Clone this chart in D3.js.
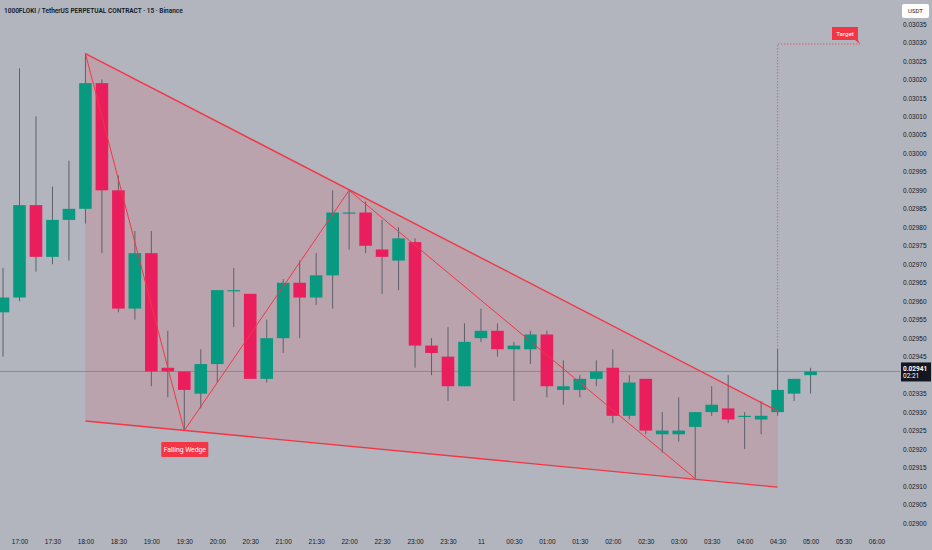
<!DOCTYPE html>
<html>
<head>
<meta charset="utf-8">
<script src="https://cdn.jsdelivr.net/npm/d3@7"></script>
<style>
  body { margin: 0; background: #b2b5be; }
  svg { display: block; font-family: Roboto, "Noto Sans", sans-serif; }
  .axis text { fill: #131722; font-size: 6.5px; }
  .axis path, .axis line { display: none; }
</style>
</head>
<body>
<script>
// 15 minute candles, 1000FLOKIUSDT.P
const times = ["16:45","17:00","17:15","17:30","17:45","18:00","18:15","18:30","18:45","19:00",
  "19:15","19:30","19:45","20:00","20:15","20:30","20:45","21:00","21:15","21:30",
  "21:45","22:00","22:15","22:30","22:45","23:00","23:15","23:30","23:45","00:00",
  "00:15","00:30","00:45","01:00","01:15","01:30","01:45","02:00","02:15","02:30",
  "02:45","03:00","03:15","03:30","03:45","04:00","04:15","04:30","04:45","05:00"];
const open = [0.02957,0.02961,0.02986,0.02972,0.02982,0.02985,0.03019,0.02990,0.02958,0.02973,
  0.02942,0.02941,0.02935,0.02943,0.02963,0.02962,0.02939,0.02950,0.02965,0.02961,
  0.02967,0.02984,0.02984,0.02974,0.02971,0.02976,0.02948,0.02945,0.02937,0.02950,
  0.02952,0.02947,0.02947,0.02951,0.02936,0.02936,0.02939,0.02942,0.02929,0.02939,
  0.02924,0.02924,0.02926,0.02930,0.02931,0.02929,0.02928,0.02930,0.02935,0.02940];
const high = [0.02969,0.03023,0.03010,0.02991,0.02998,0.03027,0.03020,0.02994,0.02979,0.02979,
  0.02952,0.02941,0.02947,0.02963,0.02969,0.02962,0.02955,0.02966,0.02971,0.02973,
  0.02990,0.02990,0.02987,0.02982,0.02980,0.02977,0.02950,0.02953,0.02954,0.02958,
  0.02954,0.02949,0.02952,0.02952,0.02944,0.02940,0.02944,0.02947,0.02940,0.02939,
  0.02930,0.02934,0.02930,0.02937,0.02940,0.02930,0.02933,0.02947,0.02939,0.02942];
const low = [0.02945,0.02960,0.02968,0.02970,0.02971,0.02981,0.02973,0.02957,0.02955,0.02937,
  0.02934,0.02925,0.02931,0.02938,0.02953,0.02939,0.02938,0.02946,0.02950,0.02959,
  0.02958,0.02974,0.02973,0.02962,0.02963,0.02942,0.02940,0.02933,0.02937,0.02949,
  0.02945,0.02933,0.02943,0.02934,0.02932,0.02934,0.02937,0.02927,0.02928,0.02924,
  0.02919,0.02922,0.02912,0.02929,0.02927,0.02920,0.02924,0.02929,0.02933,0.02935];
const close = [0.02961,0.02986,0.02972,0.02982,0.02985,0.03019,0.02990,0.02958,0.02973,0.02941,
  0.02941,0.02936,0.02943,0.02963,0.02963,0.02939,0.02950,0.02965,0.02961,0.02967,
  0.02984,0.02984,0.02975,0.02972,0.02977,0.02948,0.02946,0.02937,0.02949,0.02952,
  0.02947,0.02948,0.02951,0.02937,0.02937,0.02939,0.02941,0.02929,0.02938,0.02925,
  0.02925,0.02925,0.02930,0.02932,0.02928,0.02929,0.02929,0.02936,0.02939,0.02941];

const xTicks = ["17:00","17:30","18:00","18:30","19:00","19:30","20:00","20:30","21:00","21:30",
  "22:00","22:30","23:00","23:30","00:00","00:30","01:00","01:30","02:00","02:30",
  "03:00","03:30","04:00","04:30","05:00","05:30","06:00"];
const yTicks = [0.03035,0.03030,0.03025,0.03020,0.03015,0.03010,0.03005,0.03000,0.02995,0.02990,
  0.02985,0.02980,0.02975,0.02970,0.02965,0.02960,0.02955,0.02950,0.02945,0.02935,
  0.02930,0.02925,0.02920,0.02915,0.02910,0.02905,0.02900];

// drawings: wedge lines, zigzag, target
const wedgeUpper = [["18:00", 0.03027], ["04:30", 0.029303]];
const wedgeLower = [["18:00", 0.029276], ["04:30", 0.029097]];
const zigzag = [["18:00", 0.03027], ["19:30", 0.02925], ["22:00", 0.02990], ["03:15", 0.02912]];
const targetPath = [["04:30", 0.02947], ["04:30", 0.030296], ["05:45", 0.030296]];
const lastPrice = 0.02941;

// evening is the 10th, after midnight the 11th
const toDate = s => {
  const [h, m] = s.split(":").map(Number);
  return new Date(2024, 4, h >= 12 ? 10 : 11, h, m);
};

const data = times.map((t, i) => ({
  date: toDate(t), open: open[i], high: high[i], low: low[i], close: close[i]
}));

const width = 932, height = 550;
const svg = d3.select("body").append("svg")
  .attr("width", width)
  .attr("height", height);

svg.append("rect").attr("width", width).attr("height", height).attr("fill", "#b2b5be");

const x = d3.scaleTime()
  .domain([toDate("17:00"), toDate("06:00")])
  .range([19.5, 876.5]);
const y = d3.scaleLinear()
  .domain([0.02900, 0.03035])
  .range([523, 24]);

const green = "#089981", red = "#ea1e5d", lineRed = "#f23645";
const bw = 12.6;

// wedge fill
const poly = [wedgeUpper[0], wedgeUpper[1], wedgeLower[1], wedgeLower[0]];
svg.append("path")
  .attr("d", d3.line().x(d => x(toDate(d[0]))).y(d => y(d[1]))(poly) + "Z")
  .attr("fill", "rgba(242,54,69,0.14)");

// last price line
svg.append("line")
  .attr("x1", 0).attr("x2", 900)
  .attr("y1", y(lastPrice)).attr("y2", y(lastPrice))
  .attr("stroke", "#7f828a").attr("stroke-width", 1).attr("opacity", 0.8);

// candles
const candle = svg.selectAll("g.candle")
  .data(data)
  .enter()
  .append("g")
  .attr("class", "candle");

candle.append("line")
  .attr("x1", d => x(d.date)).attr("x2", d => x(d.date))
  .attr("y1", d => y(d.high)).attr("y2", d => y(d.low))
  .attr("stroke", "#5d606b").attr("stroke-width", 1);

candle.append("rect")
  .attr("x", d => x(d.date) - bw / 2)
  .attr("width", bw)
  .attr("y", d => y(Math.max(d.open, d.close)))
  .attr("height", d => Math.max(1.2, Math.abs(y(d.open) - y(d.close))))
  .attr("fill", d => d.close >= d.open ? green : red);

// wedge borders and zigzag
const pline = d3.line().x(d => x(toDate(d[0]))).y(d => y(d[1]));
[wedgeUpper, wedgeLower].forEach(l => {
  svg.append("path").attr("d", pline(l))
    .attr("fill", "none").attr("stroke", lineRed).attr("stroke-width", 1.4);
});
svg.append("path").attr("d", pline(zigzag))
  .attr("fill", "none").attr("stroke", lineRed).attr("stroke-width", 1);

// target
svg.append("path").attr("d", pline(targetPath))
  .attr("fill", "none").attr("stroke", lineRed).attr("stroke-width", 1)
  .attr("stroke-dasharray", "1,2");

const tx = x(toDate("05:45")), ty = y(0.030296);
svg.append("path")
  .attr("d", `M${tx - 28},${ty - 17} h26 v13 l2,4 l-5,-4 h-23 Z`)
  .attr("fill", lineRed);
svg.append("text")
  .attr("x", tx - 15).attr("y", ty - 8.3)
  .attr("text-anchor", "middle")
  .attr("font-size", 6.2).attr("fill", "#fff")
  .text("Target");

// pattern label
const lx = x(toDate("19:30"));
svg.append("rect")
  .attr("x", lx - 23).attr("y", 442).attr("width", 47).attr("height", 15)
  .attr("rx", 1).attr("fill", lineRed);
svg.append("text")
  .attr("x", lx + 0.5).attr("y", 452)
  .attr("text-anchor", "middle")
  .attr("font-size", 6.8).attr("fill", "#fff")
  .text("Falling Wedge");

// axes
svg.append("g")
  .attr("class", "axis")
  .attr("transform", "translate(0,535)")
  .call(d3.axisBottom(x)
    .tickValues(xTicks.map(toDate))
    .tickSize(0)
    .tickPadding(4)
    .tickFormat(d => d.getHours() == 0 && d.getMinutes() == 0 ? "11" : d3.timeFormat("%H:%M")(d)));

svg.append("g")
  .attr("class", "axis")
  .attr("transform", "translate(900,0)")
  .call(d3.axisRight(y)
    .tickValues(yTicks)
    .tickSize(0)
    .tickPadding(3)
    .tickFormat(d3.format(".5f")));

// currency box
svg.append("rect")
  .attr("x", 902).attr("y", 4).attr("width", 27).attr("height", 14)
  .attr("rx", 2).attr("fill", "#fff");
svg.append("text")
  .attr("x", 915.5).attr("y", 13.3).attr("text-anchor", "middle")
  .attr("font-size", 6).attr("fill", "#131722")
  .text("USDT");

// last price box
const py = y(lastPrice);
svg.append("rect")
  .attr("x", 901).attr("y", py - 9).attr("width", 30).attr("height", 19)
  .attr("fill", "#131722");
svg.append("text")
  .attr("x", 903).attr("y", py - 0.8)
  .attr("font-size", 6.5).attr("font-weight", "bold").attr("fill", "#fff")
  .text(d3.format(".5f")(lastPrice));
svg.append("text")
  .attr("x", 903).attr("y", py + 7)
  .attr("font-size", 6.5).attr("fill", "#fff")
  .text("02:21");

// title
svg.append("text")
  .attr("x", 4).attr("y", 12.5)
  .attr("font-size", 6.5).attr("font-weight", 600).attr("fill", "#131722")
  .text("1000FLOKI / TetherUS PERPETUAL CONTRACT · 15 · Binance");
</script>
</body>
</html>
